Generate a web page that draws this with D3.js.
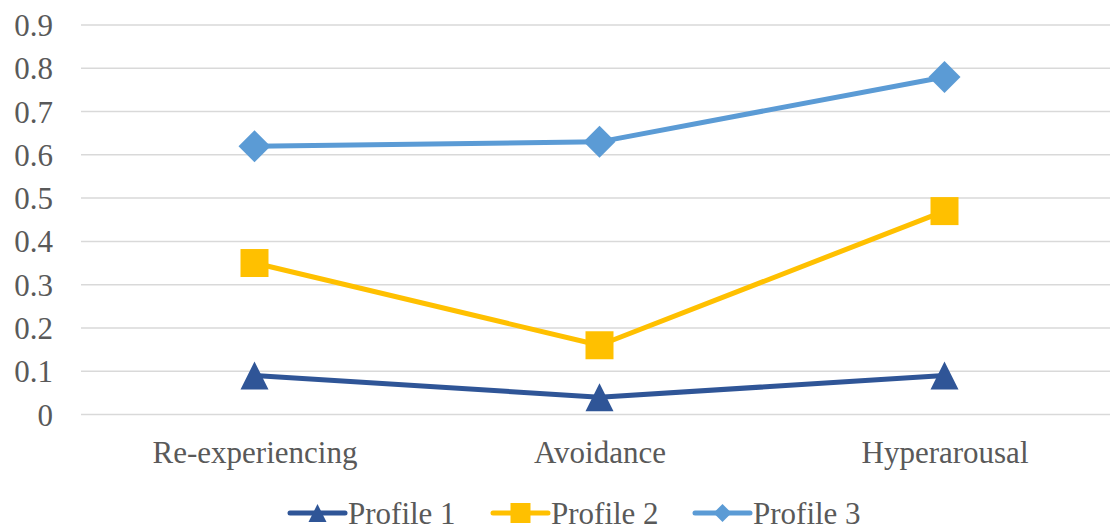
<!DOCTYPE html>
<html>
<head>
<meta charset="utf-8">
<script src="https://cdn.jsdelivr.net/npm/d3@7"></script>
<style>
	body { margin: 0; background: #fff; }
	svg { display: block; }
	svg text { font-family: "Liberation Serif", "Times New Roman", serif; }
</style>
</head>
<body>
<svg id="chart" width="1110" height="531"></svg>
<script>
// chart data
const categories = ['Re-experiencing', 'Avoidance', 'Hyperarousal'];
const profile1 = [0.09, 0.04, 0.09];
const profile2 = [0.35, 0.16, 0.47];
const profile3 = [0.62, 0.63, 0.78];
const seriesNames = ['Profile 1', 'Profile 2', 'Profile 3'];
const yTicks = [0, 0.1, 0.2, 0.3, 0.4, 0.5, 0.6, 0.7, 0.8, 0.9];
const yTickLabels = ['0', '0.1', '0.2', '0.3', '0.4', '0.5', '0.6', '0.7', '0.8', '0.9'];

const series = [
	{name: seriesNames[0], values: profile1, color: '#2f5597', marker: 'triangle'},
	{name: seriesNames[1], values: profile2, color: '#ffc000', marker: 'square'},
	{name: seriesNames[2], values: profile3, color: '#5b9bd5', marker: 'diamond'}
];

const svg = d3.select('#chart');
const textColor = '#595959';
const serif = '"Liberation Serif", "Times New Roman", serif';

const x = d3.scalePoint()
	.domain(categories)
	.range([82, 1117])
	.padding(0.5);

const y = d3.scaleLinear()
	.domain([0, 0.9])
	.range([414.5, 25]);

// gridlines
svg.append('g')
	.selectAll('line')
	.data(yTicks)
	.enter().append('line')
	.attr('x1', 81)
	.attr('x2', 1110)
	.attr('y1', d => y(d))
	.attr('y2', d => y(d))
	.attr('stroke', '#d9d9d9')
	.attr('stroke-width', 1.5);

// y axis labels
const yAxis = svg.append('g')
	.attr('transform', 'translate(53,0)')
	.call(d3.axisLeft(y).tickValues(yTicks).tickSize(0).tickPadding(0).tickFormat((d, i) => yTickLabels[i]))
	.attr('font-family', serif)
	.attr('font-size', 31);
yAxis.select('.domain').remove();
yAxis.selectAll('.tick text')
	.attr('fill', textColor)
	.attr('dy', '0.34em');

// x axis labels
const xAxis = svg.append('g')
	.attr('transform', 'translate(0,441)')
	.call(d3.axisBottom(x).tickSize(0).tickPadding(0))
	.attr('font-family', serif)
	.attr('font-size', 31);
xAxis.select('.domain').remove();
xAxis.selectAll('.tick text')
	.attr('fill', textColor)
	.attr('dy', '0.71em');

function markerPath(type, s) {
	if(type === 'triangle')
		return 'M0,' + (-s) + 'L' + s + ',' + s + 'L' + (-s) + ',' + s + 'Z';
	if(type === 'square')
		return 'M' + (-s) + ',' + (-s) + 'H' + s + 'V' + s + 'H' + (-s) + 'Z';
	return 'M0,' + (-s) + 'L' + s + ',0L0,' + s + 'L' + (-s) + ',0Z';
}
const markerSize = {triangle: 14, square: 14, diamond: 16};

const line = d3.line()
	.x((d, i) => x(categories[i]))
	.y(d => y(d));

series.forEach(function (s) {
	const g = svg.append('g');
	g.append('path')
		.attr('d', line(s.values))
		.attr('fill', 'none')
		.attr('stroke', s.color)
		.attr('stroke-width', 5)
		.attr('stroke-linejoin', 'round')
		.attr('stroke-linecap', 'round');
	g.selectAll('.pt')
		.data(s.values)
		.enter().append('path')
		.attr('class', 'pt')
		.attr('transform', (d, i) => 'translate(' + x(categories[i]) + ',' + y(d) + ')')
		.attr('d', markerPath(s.marker, markerSize[s.marker]))
		.attr('fill', s.color);
});

// legend
const legendX = [290, 493, 695];
const legendY = 513;
const legend = svg.append('g');
series.forEach(function (s, i) {
	const g = legend.append('g').attr('transform', 'translate(' + legendX[i] + ',' + legendY + ')');
	g.append('line')
		.attr('x1', 0).attr('x2', 55)
		.attr('stroke', s.color)
		.attr('stroke-width', 5)
		.attr('stroke-linecap', 'round');
	g.append('path')
		.attr('transform', 'translate(27.5,0)')
		.attr('d', markerPath(s.marker, s.marker === 'square' ? 10 : 9))
		.attr('fill', s.color);
	g.append('text')
		.attr('x', 58)
		.attr('dy', '0.34em')
		.attr('fill', textColor)
		.style('font-size', '31px')
		.text(s.name);
});
</script>
</body>
</html>
